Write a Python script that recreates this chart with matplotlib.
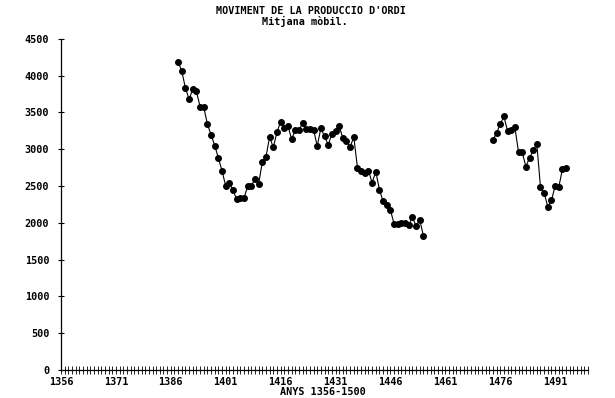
import matplotlib
matplotlib.use("Agg")
import matplotlib.pyplot as plt
from matplotlib.ticker import MultipleLocator, FixedLocator

# Data: moving average of barley production
years1 = list(range(1388, 1456))
values1 = [4190, 4060, 3830, 3680, 3815, 3785, 3580, 3570, 3340, 3195,
           3050, 2880, 2705, 2500, 2545, 2440, 2320, 2335, 2335, 2500,
           2500, 2600, 2530, 2825, 2895, 3170, 3025, 3230, 3375, 3285,
           3315, 3140, 3255, 3255, 3355, 3280, 3270, 3265, 3045, 3285,
           3175, 3060, 3205, 3250, 3315, 3150, 3105, 3035, 3165, 2745,
           2710, 2675, 2710, 2545, 2695, 2450, 2290, 2245, 2175, 1985,
           1985, 2000, 2000, 1970, 2075, 1960, 2040, 1825]
years2 = list(range(1474, 1495))
values2 = [3125, 3220, 3340, 3445, 3250, 3265, 3300, 2960, 2960, 2765,
           2880, 2985, 3070, 2485, 2405, 2220, 2305, 2500, 2485, 2730,
           2745]

xtick_labels = list(range(1356, 1492, 15))
ytick_vals = list(range(0, 4501, 500))

title1 = "MOVIMENT DE LA PRODUCCIO D'ORDI"
title2 = "Mitjana mòbil."
xlabel = "ANYS 1356-1500"

font = {"family": "DejaVu Sans Mono", "weight": "bold", "size": 7.3}

fig = plt.figure(figsize=(6.15, 3.98), dpi=100)
ax = fig.add_axes([0.0992, 0.0704, 0.857, 0.832])

for yrs, vals in ((years1, values1), (years2, values2)):
    ax.plot(yrs, vals, color="black", lw=0.8, marker="o", ms=4.0,
            mfc="black", mec="black")

ax.set_xlim(1356, 1500)
ax.set_ylim(0, 4500)
for s in ("top", "right"):
    ax.spines[s].set_visible(False)
ax.spines["left"].set_linewidth(0.9)
ax.spines["bottom"].set_linewidth(0.9)

ax.xaxis.set_major_locator(FixedLocator(xtick_labels))
ax.xaxis.set_minor_locator(MultipleLocator(1))
ax.set_xticklabels([str(v) for v in xtick_labels], fontdict=font)
ax.yaxis.set_major_locator(FixedLocator(ytick_vals))
ax.set_yticklabels([str(v) for v in ytick_vals], fontdict=font)

ax.tick_params(axis="x", which="both", direction="inout", length=6,
               width=0.6, pad=2)
ax.tick_params(axis="y", which="major", direction="inout", length=5,
               width=0.8, pad=6)

fig.text(0.525, 0.016, xlabel, ha="center", va="center", fontdict=font)
fig.text(0.505, 0.972, title1, ha="center", va="center", fontdict=font)
fig.text(0.495, 0.946, title2, ha="center", va="center", fontdict=font)

fig.savefig("out.png", dpi=100, facecolor="white")
